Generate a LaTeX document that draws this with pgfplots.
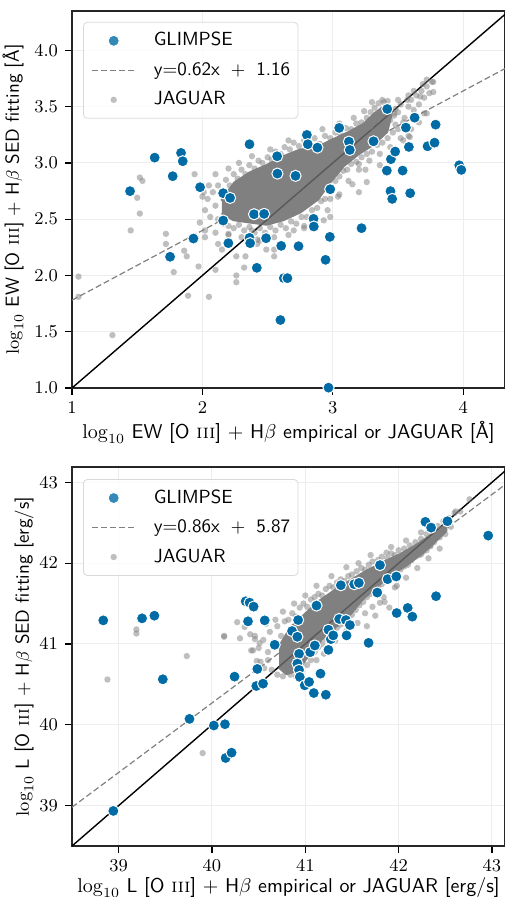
\documentclass[border=0pt]{standalone}
\usepackage{pgfplots}
\pgfplotsset{compat=1.18}
\definecolor{glimpse}{HTML}{006BA4}
\definecolor{legframe}{HTML}{D9D9D9}

\pgfplotsset{
  panel/.style={
    scale only axis, width=216.5pt,
    tick align=outside, tick pos=left, major tick length=3.5pt,
    major tick style={black, line width=0.6pt},
    axis line style={line width=0.6pt, black!85},
    grid=major, grid style={black!7, line width=0.5pt},
    tick label style={font=\fontsize{9.5}{11}\selectfont},
    ylabel style={font=\fontsize{9.5}{11}\selectfont\sffamily},
    xlabel style={font=\fontsize{10}{12}\selectfont\sffamily, yshift=3pt},
    legend style={font=\fontsize{9.5}{11}\selectfont\sffamily,
      draw=legframe, rounded corners=2pt, fill=white, fill opacity=0.8, text opacity=1,
      inner xsep=4pt, inner ysep=4.75pt, row sep=5.75pt,
      nodes={inner sep=0pt, text height=7pt, text depth=2pt}},
    legend cell align=left,
    legend image code/.code={
      \draw[mark repeat=2, mark phase=2, #1] plot coordinates {(0pt,0pt) (10.75pt,0pt) (21.5pt,0pt)};
      \path (30.5pt,0pt) (-0.1pt,0pt);},
  },
  blue pts/.style={only marks, mark=*, mark size=2.8pt,
    mark options={fill=glimpse, draw=white, line width=0.5pt}},
  grey pts/.style={only marks, mark=*, mark size=1.6pt,
    mark options={fill=gray, fill opacity=0.5, draw opacity=0}},
  fit line/.style={gray, line width=0.6pt, dash pattern=on 3pt off 1.5pt},
  core/.style={fill=gray, draw=gray, line width=2pt, line join=round, forget plot},
}

\begin{document}
\begin{tikzpicture}
% ---------- EW panel ----------
\begin{axis}[panel, name=top, height=188.5pt,
  xmin=1, xmax=4.32, ymin=1, ymax=4.35,
  xtick={1,2,3,4}, ytick={1,1.5,...,4},
  yticklabel style={/pgf/number format/.cd, fixed, fixed zerofill, precision=1},
  xlabel={$\log_{10}$ EW [O \textrm{\textsc{iii}}] $+$ H$\beta$ empirical or JAGUAR [Å]},
  ylabel={$\log_{10}$ EW [O \textrm{\textsc{iii}}] $+$ H$\beta$ SED fitting [Å]},
  ylabel style={yshift=-1.5pt},
  legend style={at={(0.0254,0.971)}, anchor=north west},
]
\addlegendimage{blue pts}\addlegendentry{GLIMPSE}
\addlegendimage{fit line}\addlegendentry{y=0.62x\hspace{5.5pt}$+$\hspace{5.5pt}1.16}
\addlegendimage{grey pts}\addlegendentry{JAGUAR}

\addplot[black, line width=0.7pt, forget plot] coordinates {(1,1) (4.4,4.4)};
\addplot[fit line, forget plot] coordinates {(1,1.78) (4.4,3.888)};

% saturated core of the JAGUAR cloud
\addplot[core] coordinates {
(2.15,2.66) (2.25,2.82) (2.37,2.91) (2.49,2.97) (2.62,3.05) (2.75,3.11) (2.88,3.13)
(3.00,3.20) (3.13,3.27) (3.24,3.34) (3.33,3.44) (3.40,3.50) (3.44,3.42) (3.41,3.28)
(3.31,3.17) (3.20,3.09) (3.08,2.98) (2.98,2.84) (2.88,2.68) (2.75,2.57) (2.62,2.50)
(2.49,2.46) (2.36,2.48) (2.24,2.50) (2.15,2.56)};
% 1:1 line showing faintly through the cloud
\addplot[black, line width=0.7pt, opacity=0.3, forget plot] coordinates {(2.3,2.3) (3.5,3.5)};

\addplot[grey pts, forget plot] table {
x y
1.05 1.99
1.05 1.81
1.31 1.47
1.45 2.40
1.52 2.87
1.54 2.84
1.50 2.69
1.52 2.55
1.72 2.37
1.72 2.28
1.78 2.03
1.86 2.22
1.88 2.17
1.89 1.82
1.94 2.90
1.98 2.47
1.97 2.08
2.01 2.74
2.02 2.40
2.05 1.81
2.10 2.05
2.10 2.38
2.12 2.28
2.15 2.23
2.20 2.37
2.26 2.17
2.26 2.00
2.26 1.94
2.33 2.17
2.32 2.07
2.38 2.40
2.44 2.31
2.49 2.23
2.55 2.17
2.70 2.40
2.78 2.42
2.98 2.52
2.98 2.68
3.05 2.72
3.15 2.81
3.20 2.74
3.26 2.83
3.36 2.98
3.25 2.94
3.20 2.99
3.47 3.11
3.54 3.20
3.59 3.23
3.70 3.44
3.77 3.63
3.77 3.72
3.72 3.74
3.62 3.64
3.67 3.59
3.57 3.56
3.47 3.42
3.39 3.54
3.50 3.56
3.34 3.38
3.29 3.32
2.02 2.34
2.93 2.49
2.55 2.23
2.42 2.28
2.02 2.58
2.04 2.68
2.06 2.52
2.08 2.74
2.10 2.62
2.12 2.80
2.15 2.73
2.18 2.85
2.21 2.80
2.24 2.90
2.27 2.86
2.30 2.94
2.33 2.90
2.36 2.98
2.40 2.95
2.43 3.02
2.46 3.00
2.50 3.05
2.53 3.03
2.56 3.10
2.60 3.08
2.63 3.14
2.67 3.12
2.70 3.18
2.74 3.15
2.78 3.20
2.82 3.16
2.86 3.22
2.90 3.17
2.94 3.24
2.98 3.22
3.02 3.27
3.06 3.25
3.10 3.31
3.14 3.30
3.18 3.35
3.22 3.36
3.26 3.40
3.29 3.45
3.32 3.49
3.35 3.53
3.38 3.56
3.42 3.55
2.12 2.50
2.16 2.46
2.20 2.44
2.24 2.42
2.28 2.45
2.32 2.40
2.36 2.43
2.40 2.38
2.44 2.42
2.48 2.38
2.52 2.43
2.56 2.40
2.60 2.45
2.64 2.42
2.68 2.48
2.72 2.46
2.76 2.52
2.80 2.52
2.84 2.58
2.88 2.60
2.91 2.66
2.94 2.68
2.97 2.75
3.00 2.77
3.02 2.84
3.05 2.88
3.08 2.93
3.11 2.94
3.14 2.99
3.18 3.01
3.22 3.05
3.26 3.08
3.30 3.10
3.34 3.16
3.38 3.18
3.42 3.22
3.46 3.27
3.48 3.34
3.47 3.44
3.50 3.45
3.52 3.52
3.55 3.40
3.58 3.50
3.60 3.56
3.62 3.47
3.64 3.60
3.66 3.52
3.68 3.64
3.70 3.58
3.72 3.68
3.74 3.62
3.76 3.72
3.69 3.70
3.58 3.60
3.48 3.48
3.54 3.36
3.44 3.38
3.50 3.30
2.00 2.70
2.05 2.80
2.10 2.90
2.20 2.95
2.28 3.00
2.38 3.06
2.52 3.12
2.66 3.20
2.80 3.26
2.92 3.30
3.05 3.35
3.16 3.40
3.24 3.46
3.30 3.54
2.20 2.36
2.30 2.34
2.42 2.32
2.55 2.34
2.66 2.36
2.78 2.44
2.86 2.50
2.96 2.58
3.04 2.70
3.12 2.84
3.20 2.94
3.28 3.02
3.36 3.08
3.44 3.14
3.52 3.22
3.60 3.30
3.66 3.36
3.72 3.44
3.58 3.24
};

\addplot[blue pts, forget plot] table {
x y
1.445 2.749
1.634 3.047
1.772 2.882
1.836 3.089
1.849 3.015
1.752 2.166
1.931 2.328
1.982 2.784
2.159 2.731
2.212 2.689
2.159 2.488
2.199 2.287
2.361 3.166
2.361 2.334
2.366 2.287
2.396 2.544
2.473 2.547
2.488 2.331
2.417 2.068
2.573 3.059
2.575 2.905
2.714 2.885
2.604 2.263
2.624 1.976
2.652 1.976
2.598 1.604
2.737 2.260
2.801 3.249
2.808 3.166
2.882 3.136
2.852 2.503
2.854 2.435
2.980 2.766
2.977 2.343
2.944 2.139
2.967 1.003
3.049 3.311
3.123 3.189
3.130 3.115
3.220 2.420
3.312 3.192
3.417 3.479
3.414 2.932
3.445 3.033
3.478 3.101
3.442 2.749
3.455 2.680
3.535 2.932
3.560 3.314
3.583 3.142
3.593 2.731
3.627 3.402
3.726 3.148
3.780 3.180
3.788 3.340
3.969 2.979
3.985 2.938
4.322 2.787
};
\end{axis}

% ---------- luminosity panel ----------
\begin{axis}[panel, name=bot, height=189.5pt,
  at={(top.south west)}, anchor=north west, yshift=-39.5pt,
  xmin=38.5, xmax=43.14, ymin=38.5, ymax=43.19,
  xtick={39,40,41,42,43}, ytick={39,40,41,42,43},
  xlabel={$\log_{10}$ L [O \textrm{\textsc{iii}}] $+$ H$\beta$ empirical or JAGUAR [erg/s]},
  ylabel={$\log_{10}$ L [O \textrm{\textsc{iii}}] $+$ H$\beta$ SED fitting [erg/s]},
  xlabel style={yshift=1pt}, ylabel style={yshift=-4pt},
  legend style={at={(0.0254,0.968)}, anchor=north west},
]
\addlegendimage{blue pts}\addlegendentry{GLIMPSE}
\addlegendimage{fit line}\addlegendentry{y=0.86x\hspace{5.5pt}$+$\hspace{5.5pt}5.87}
\addlegendimage{grey pts}\addlegendentry{JAGUAR}

\addplot[black, line width=0.7pt, forget plot] coordinates {(38.5,38.5) (43.3,43.3)};
\addplot[fit line, forget plot] coordinates {(38.5,38.98) (43.3,43.108)};

\addplot[core] coordinates {
(40.72,40.95) (40.85,41.20) (41.00,41.36) (41.15,41.52) (41.30,41.64) (41.48,41.77)
(41.65,41.89) (41.85,42.01) (42.02,42.10) (42.20,42.22) (42.35,42.34) (42.50,42.47)
(42.50,42.40) (42.30,42.18) (42.10,42.00) (41.94,41.88) (41.76,41.72) (41.60,41.55)
(41.48,41.38) (41.35,41.25) (41.22,41.12) (41.10,40.98) (41.00,40.82) (40.92,40.68)
(40.80,40.64) (40.72,40.72)};
\addplot[black, line width=0.7pt, opacity=0.3, forget plot] coordinates {(40.6,40.6) (42.6,42.6)};

\addplot[grey pts, forget plot] table {
x y
39.19 41.18
39.19 41.13
38.88 40.56
39.73 40.85
39.90 39.65
40.13 41.10
40.13 41.09
40.27 41.27
40.30 41.07
40.35 41.21
40.41 41.12
40.46 41.06
40.51 41.01
40.44 40.92
40.48 40.79
40.58 41.25
41.57 42.00
41.87 42.13
41.98 41.72
42.24 42.11
42.34 42.21
42.61 42.64
42.76 42.79
41.66 41.22
41.80 41.51
41.85 41.52
41.90 41.45
41.75 41.35
40.50 40.95
40.55 41.05
40.60 40.90
40.62 41.15
40.66 41.02
40.70 41.22
40.74 41.10
40.78 41.28
40.82 41.30
40.86 41.38
40.90 41.34
40.94 41.45
40.98 41.50
41.02 41.46
41.06 41.55
41.10 41.58
41.14 41.62
41.18 41.60
41.22 41.68
41.26 41.72
41.30 41.70
41.34 41.76
41.38 41.80
41.42 41.78
41.46 41.84
41.50 41.86
41.55 41.90
41.60 41.94
41.64 41.92
41.68 41.98
41.72 42.02
41.78 42.04
41.82 42.08
41.88 42.06
41.92 42.12
41.96 42.10
42.00 42.16
42.06 42.18
42.12 42.22
42.18 42.26
42.24 42.30
42.30 42.36
42.36 42.40
42.42 42.46
42.48 42.52
42.54 42.56
42.60 42.62
42.66 42.64
40.70 40.62
40.76 40.60
40.84 40.62
40.90 40.60
40.96 40.66
41.02 40.74
41.06 40.80
41.10 40.90
41.14 40.96
41.18 41.00
41.22 41.06
41.26 41.10
41.30 41.16
41.34 41.20
41.38 41.24
41.42 41.30
41.46 41.34
41.50 41.36
41.54 41.42
41.58 41.48
41.62 41.52
41.66 41.58
41.70 41.62
41.74 41.66
41.78 41.70
41.82 41.74
41.86 41.78
41.90 41.82
41.94 41.84
41.98 41.88
42.02 41.92
42.06 41.96
42.10 41.98
42.14 42.04
42.18 42.08
42.22 42.10
42.26 42.14
42.30 42.16
42.34 42.22
42.38 42.26
42.44 42.32
42.50 42.36
42.56 42.45
40.42 40.92
40.46 41.10
40.52 40.78
40.56 40.70
40.60 40.80
40.64 40.68
40.68 41.30
40.76 41.40
40.88 41.50
41.00 41.60
41.12 41.72
41.28 41.84
41.44 41.95
41.70 42.10
41.92 42.20
42.08 42.28
42.24 42.38
41.12 40.80
41.20 40.88
41.32 41.04
41.44 41.16
41.56 41.26
41.64 41.38
41.72 41.46
41.84 41.58
41.96 41.70
42.08 41.82
42.20 41.94
42.32 42.06
42.44 42.18
};

\addplot[blue pts, forget plot] table {
x y
38.835 41.292
39.251 41.317
39.383 41.350
39.473 40.563
39.759 40.073
40.020 39.991
40.139 40.007
40.146 39.589
40.210 39.655
38.943 38.934
40.242 40.596
40.361 41.528
40.403 41.512
40.446 41.462
40.386 41.280
40.565 41.292
40.486 40.691
40.475 40.480
40.547 40.509
40.672 40.990
40.858 41.160
40.923 41.296
40.915 41.089
40.933 40.878
40.915 40.757
40.933 40.679
40.941 40.592
40.994 40.488
41.041 40.530
41.091 40.393
41.052 40.898
41.102 40.981
41.120 41.475
41.163 40.633
41.220 40.372
41.248 40.927
41.248 41.176
41.274 41.060
41.299 41.106
41.363 41.309
41.435 41.296
41.478 41.234
41.442 41.106
41.381 41.727
41.524 41.740
41.574 41.756
41.678 41.014
41.771 41.636
41.800 41.976
41.882 41.802
41.975 41.835
41.979 41.383
42.097 41.446
42.147 41.338
42.401 41.591
42.287 42.511
42.348 42.440
42.523 42.519
42.960 42.341
43.143 42.341
};
\end{axis}

\pgfresetboundingbox
\path ([xshift=-36pt, yshift=5.5pt]top.north west) rectangle ([xshift=-0.35pt, yshift=-25.5pt]bot.south east);
\end{tikzpicture}
\end{document}
